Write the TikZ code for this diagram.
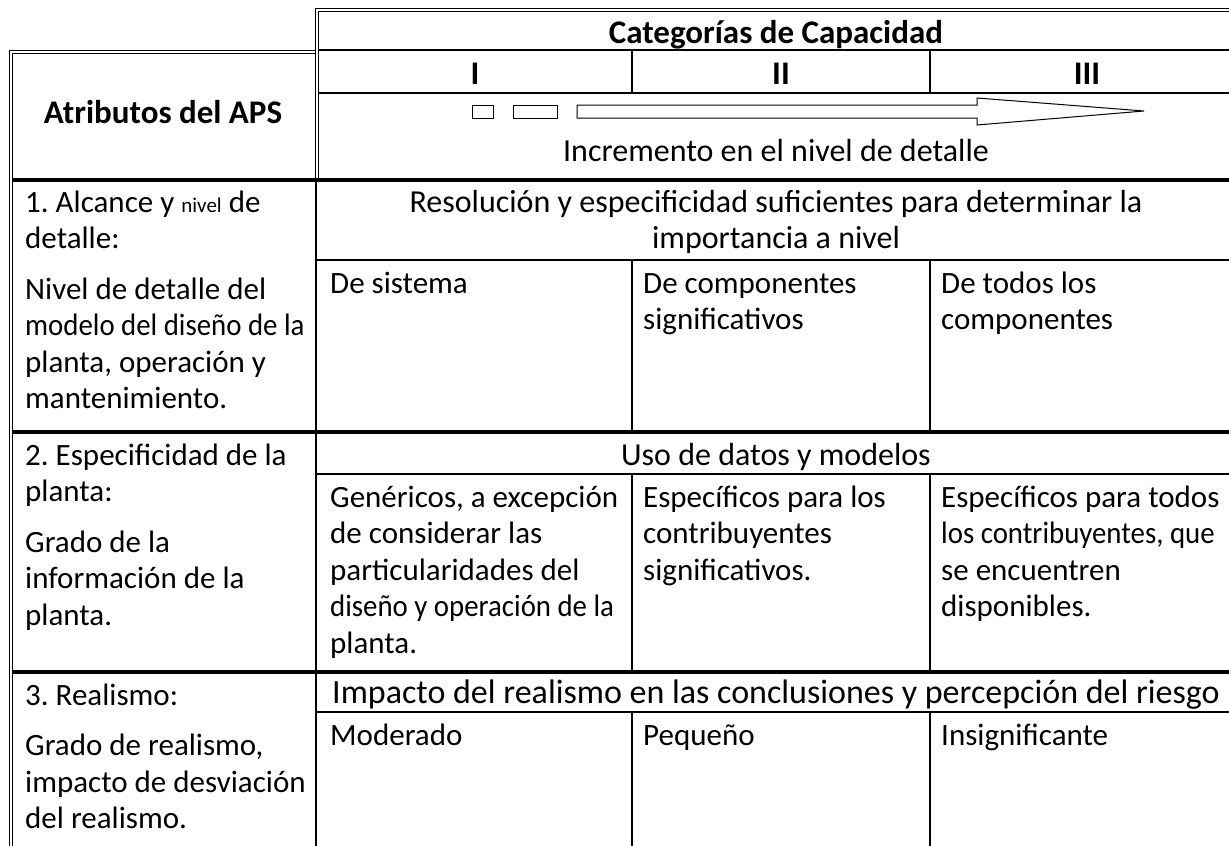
\documentclass[tikz,border=0pt]{standalone}
\usepackage{fontspec}
\usepackage{graphicx}
\setmainfont{Carlito}
\frenchspacing
\newcommand{\cellfont}{\fontsize{31}{36.5}\selectfont}
\newcommand{\headfont}{\fontsize{33}{36.5}\selectfont\bfseries}
\newcommand{\tinyword}[1]{{\fontsize{21}{36.5}\selectfont #1}}
\newcommand{\narrow}[1]{\scalebox{0.93}[1]{#1}}
\tikzset{
  rule/.style={line width=1.3pt},
  thickrule/.style={line width=3.2pt},
  dbl/.style={line width=1pt},
  cell/.style={anchor=north west, inner sep=0pt, text width=300pt, align=flush left, font=\cellfont, execute at begin node=\strut},
  mid/.style={anchor=north, inner sep=0pt, text width=1000pt, align=flush center, font=\cellfont, execute at begin node=\strut},
  head/.style={anchor=north, inner sep=0pt, font=\headfont, execute at begin node=\strut}
}
\begin{document}
\begin{tikzpicture}[x=1pt,y=-1pt]
    \clip (0,0) rectangle (1229,846);
    % double borders
    \draw[dbl] (9,846) -- (9,50) -- (315,50);
    \draw[dbl] (12,846) -- (12,53) -- (315,53);
    \draw[dbl] (315,180) -- (315,8) -- (1244,8);
    \draw[dbl] (318,180) -- (318,11) -- (1244,11);
    \draw[rule] (316,180) -- (316,846);
    % header
    \draw[rule] (318,50) -- (1244,50);
    \draw[rule] (318,93) -- (1244,93);
    \foreach \x in {632,930}
        {\draw[rule] (\x,50) -- (\x,93);
        }
    % rows
    \foreach \y in {180,432,672}
        {\draw[thickrule] (12,\y) -- (1244,\y);
        }
    \foreach \y in {260,474,712}
        {\draw[rule] (316,\y) -- (1244,\y);
        }
    \foreach \a/\b in {260/432,474/672,712/846}
        {\draw[rule] (632,\a) -- (632,\b);
         \draw[rule] (930,\a) -- (930,\b);
        }
    % arrow
    \draw[dbl] (472,105) rectangle (493,118);
    \draw[dbl] (513,105) rectangle (557,118);
    \draw[dbl] (577,105) -- (977,105) -- (977,98) -- (1144,111) -- (977,125) -- (977,118) -- (577,118) -- cycle;
    % header texts
    \node[head, anchor=center] (attr) at (163,116) {Atributos del APS};
    \node[head] (cat) at (776,17.5) {Categorías de Capacidad};
    \node[head] (catI) at (475,58.5) {I};
    \node[head] (catII) at (781,58.5) {II};
    \node[head] (catIII) at (1087,58.5) {III};
    \node[mid, font=\fontsize{32}{36.5}\selectfont] (incr) at (776,135.5) {Incremento en el nivel de detalle};
    % row 1
    \node[cell] (alc) at (25,186.5) {1. Alcance y \tinyword{nivel} de\\detalle:\\[14pt]Nivel de detalle del\\\narrow{modelo del diseño de la}\\planta, operación y\\mantenimiento.};
    \node[mid, font=\fontsize{32}{36.5}\selectfont] (res) at (776,186.5) {Resolución y especificidad suficientes para determinar la\\importancia a nivel};
    \node[cell] (alcI) at (330,267.5) {De sistema};
    \node[cell] (alcII) at (643,267.5) {De componentes\\significativos};
    \node[cell] (alcIII) at (941,267.5) {De todos los\\componentes};
    % row 2
    \node[cell] (esp) at (25,439.5) {2. Especificidad de la\\planta:\\[14pt]Grado de la\\información de la\\planta.};
    \node[mid, font=\fontsize{32}{36.5}\selectfont] (uso) at (776,439.5) {Uso de datos y modelos};
    \node[cell] (espI) at (330,481.5) {Genéricos, a excepción\\de considerar las\\particularidades del\\\narrow{diseño y operación de la}\\planta.};
    \node[cell] (espII) at (643,481.5) {Específicos para los\\contribuyentes\\significativos.};
    \node[cell] (espIII) at (941,481.5) {Específicos para todos\\\narrow{los contribuyentes, que}\\se encuentren\\disponibles.};
    % row 3
    \node[cell] (rea) at (25,679.5) {3. Realismo:\\[14pt]Grado de realismo,\\impacto de desviación\\del realismo.};
    \node[mid, font=\fontsize{34}{36.5}\selectfont] (imp) at (776,677.5) {Impacto del realismo en las conclusiones y percepción del riesgo};
    \node[cell] (reaI) at (330,719.5) {Moderado};
    \node[cell] (reaII) at (643,719.5) {Pequeño};
    \node[cell] (reaIII) at (941,719.5) {Insignificante};
\end{tikzpicture}
\end{document}
